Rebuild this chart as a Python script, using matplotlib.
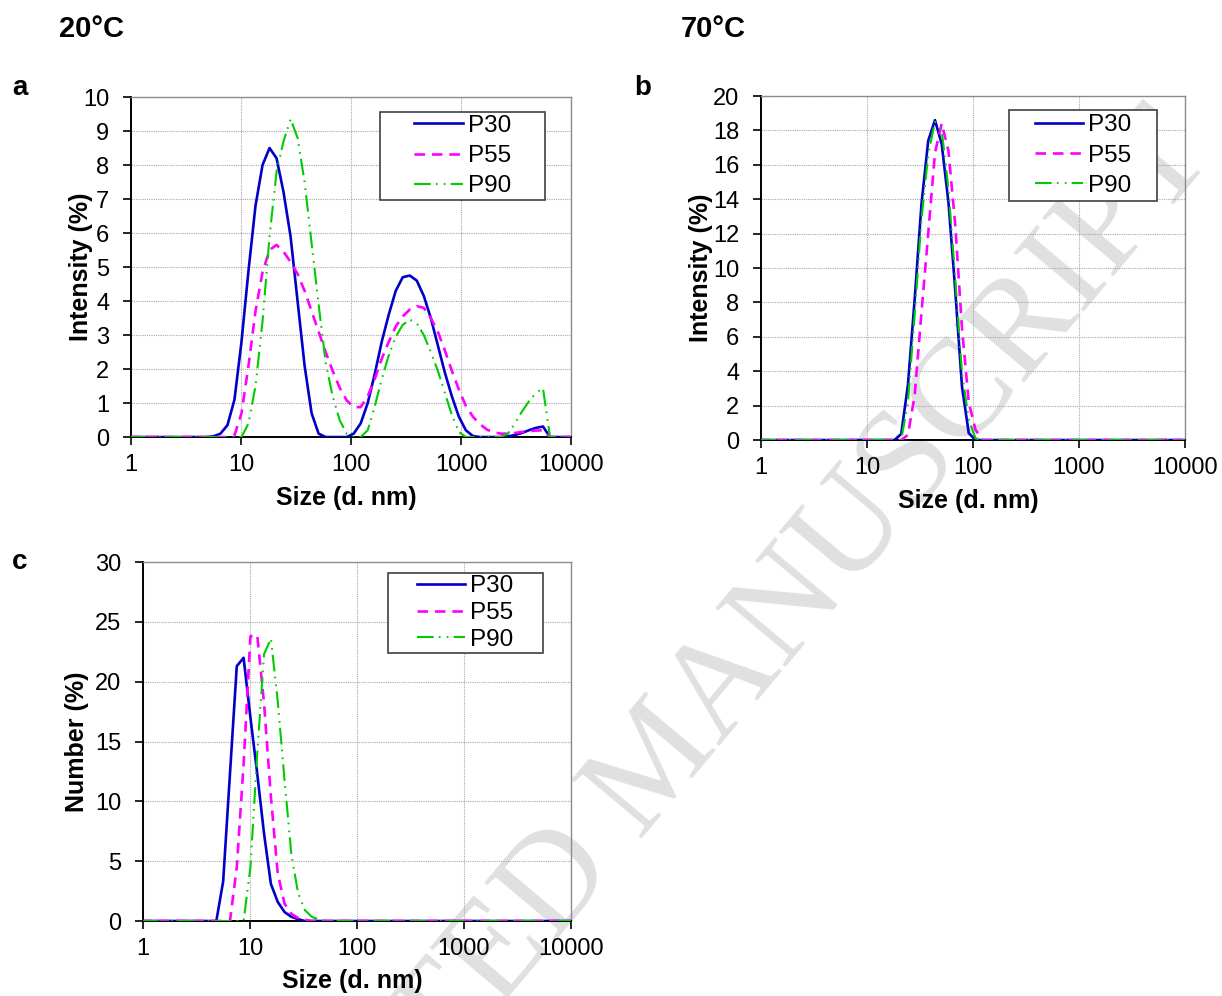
import matplotlib
matplotlib.use("Agg")
import matplotlib.pyplot as plt
from matplotlib.patches import Rectangle

plt.rcParams['font.family'] = ['Liberation Sans', 'DejaVu Sans']

# Malvern size classes (d. nm), 0.96 nm .. 10000 nm
SIZES = [0.9649, 1.117, 1.294, 1.499, 1.736, 2.01, 2.328, 2.696,
         3.122, 3.615, 4.187, 4.849, 5.615, 6.503, 7.531, 8.721,
         10.1, 11.7, 13.54, 15.69, 18.17, 21.04, 24.36, 28.21,
         32.67, 37.84, 43.82, 50.75, 58.77, 68.06, 78.82, 91.28,
         105.7, 122.4, 141.8, 164.2, 190.1, 220.2, 255.0, 295.3,
         342.0, 396.1, 458.7, 531.2, 615.1, 712.4, 825.0, 955.4,
         1106, 1281, 1484, 1718, 1990, 2305, 2669, 3091,
         3580, 4145, 4801, 5560, 6439, 7456, 8635, 10000]

SAMPLES = ["P30", "P55", "P90"]

# (a) intensity, 20 C
A_P30 = ([0] * 8
         + [0, 0, 0, 0, 0.02, 0.1, 0.35, 1.1]
         + [2.8, 4.9, 6.8, 8.0, 8.5, 8.2, 7.2, 5.9]
         + [4.0, 2.1, 0.7, 0.1, 0, 0, 0, 0]
         + [0.1, 0.4, 1.0, 1.85, 2.8, 3.6, 4.3, 4.7]
         + [4.75, 4.6, 4.15, 3.5, 2.7, 1.9, 1.2, 0.6]
         + [0.2, 0.03, 0, 0, 0, 0, 0.02, 0.06]
         + [0.12, 0.2, 0.27, 0.31, 0, 0, 0, 0])
A_P55 = ([0] * 8
         + [0, 0, 0, 0, 0, 0, 0, 0.05]
         + [0.7, 2.1, 3.7, 4.85, 5.5, 5.65, 5.45, 5.15]
         + [4.8, 4.3, 3.7, 3.1, 2.5, 1.95, 1.45, 1.08]
         + [0.88, 0.88, 1.2, 1.7, 2.3, 2.8, 3.25, 3.55]
         + [3.75, 3.85, 3.8, 3.5, 3.1, 2.55, 1.95, 1.4]
         + [0.92, 0.6, 0.38, 0.22, 0.14, 0.1, 0.1, 0.12]
         + [0.15, 0.17, 0.19, 0.2, 0, 0, 0, 0])
A_P90 = ([0] * 8
         + [0, 0, 0, 0, 0, 0, 0, 0]
         + [0, 0.4, 1.5, 3.4, 5.9, 7.8, 8.7, 9.35]
         + [8.8, 7.5, 5.7, 3.9, 2.2, 1.2, 0.5, 0.1]
         + [0, 0, 0.2, 0.9, 1.7, 2.4, 2.95, 3.3]
         + [3.45, 3.35, 3.0, 2.5, 1.95, 1.3, 0.65, 0.15]
         + [0, 0, 0, 0, 0, 0, 0.1, 0.4]
         + [0.75, 1.05, 1.3, 1.43, 0, 0, 0, 0])

# (b) intensity, 70 C
B_P30 = ([0] * 16
         + [0, 0, 0, 0, 0, 0.35, 3.2, 8.2]
         + [13.7, 17.4, 18.6, 17.2, 13.8, 8.7, 3.1, 0.4]
         + [0] * 32)
B_P55 = ([0] * 16
         + [0, 0, 0, 0, 0, 0, 0.3, 2.6]
         + [7.4, 12.0, 16.7, 18.4, 16.8, 12.5, 6.5, 2.2]
         + [0.6] + [0] * 31)
B_P90 = ([0] * 16
         + [0, 0, 0, 0, 0, 0, 2.2, 7.3]
         + [12.8, 16.6, 18.5, 18.0, 14.6, 9.4, 3.9, 1.2]
         + [0.1] + [0] * 31)

# (c) number, 20 C
C_P30 = ([0] * 8
         + [0, 0, 0, 0, 3.3, 12.3, 21.3, 22.0]
         + [17.0, 12.3, 7.3, 3.1, 1.6, 0.75, 0.35, 0.15]
         + [0] * 40)
C_P55 = ([0] * 8
         + [0, 0, 0, 0, 0, 0, 4.5, 13.1]
         + [23.8, 23.9, 18.2, 10.4, 4.0, 1.45, 0.6, 0.25]
         + [0.1] + [0] * 39)
C_P90 = ([0] * 8
         + [0, 0, 0, 0, 0, 0, 0, 0]
         + [4.5, 14.0, 22.3, 23.6, 18.4, 11.8, 5.6, 2.3]
         + [0.9, 0.35, 0.12] + [0] * 37)

X_TICKS = [1, 10, 100, 1000, 10000]

COLORS = ['#0000C8', '#FF00FF', '#00CC00']
STYLES = ['-', (0, (4, 2.6)), (0, (8, 2.5, 0.8, 3, 0.8, 2.5))]
WIDTHS = [1.9, 1.9, 1.5]

fig = plt.figure(figsize=(12.22, 9.96), dpi=100)

# faint watermark behind everything
fig.text(0.540, 0.232, "ACCEPTED MANUSCRIPT", fontsize=100, family='Liberation Serif',
         color='#e0e0e0', rotation=50, ha='center', va='center', zorder=-1)


def panel(rect, series, ymax, ystep, ylabel, ylab_x, xlab_y, leg_box, leg_spacing):
    ax = fig.add_axes(rect)
    ax.set_facecolor('none')
    for vals, name, c, ls, lw in zip(series, SAMPLES, COLORS, STYLES, WIDTHS):
        ax.plot(SIZES, vals, color=c, linestyle=ls, lw=lw, label=name, zorder=3)
    ax.set_xscale('log')
    ax.set_xlim(1, 10000)
    ax.set_ylim(0, ymax)
    ax.set_xticks(X_TICKS)
    ax.set_xticklabels([str(t) for t in X_TICKS])
    ax.xaxis.set_minor_locator(matplotlib.ticker.NullLocator())
    ax.set_yticks(range(0, ymax + 1, ystep))
    ax.tick_params(labelsize=17, length=5.5, width=1.2, direction='out')
    ax.tick_params(axis='y', pad=10)
    ax.tick_params(axis='x', pad=7)
    ax.grid(True, color='#a8a8a8', linestyle=(0, (1, 1)), lw=0.8)
    for s in ['left', 'bottom']:
        ax.spines[s].set_linewidth(1.4)
    for s in ['top', 'right']:
        ax.spines[s].set_color('#8c8c8c')
        ax.spines[s].set_linewidth(1.0)
    ax.set_ylabel(ylabel, fontsize=18, fontweight='bold')
    ax.yaxis.set_label_coords(ylab_x, 0.5)
    ax.set_xlabel("Size (d. nm)", fontsize=18, fontweight='bold')
    ax.xaxis.set_label_coords(0.49, xlab_y)
    x0, y0, w, h = leg_box
    ax.add_patch(Rectangle((x0, y0), w, h, transform=ax.transAxes, facecolor='white',
                           edgecolor='#404040', lw=1.2, zorder=5))
    leg = ax.legend(loc='center', bbox_to_anchor=(x0 + w / 2, y0 + h / 2),
                    frameon=False, fontsize=17.5, handlelength=2.0, handletextpad=0.2,
                    labelspacing=leg_spacing, borderpad=0)
    leg.set_zorder(6)
    return ax


panel([0.1072, 0.5612, 0.3601, 0.3414], [A_P30, A_P55, A_P90], 10, 1,
      "Intensity (%)", -0.086, -0.144, (0.566, 0.697, 0.375, 0.259), 0.33)
panel([0.6227, 0.5582, 0.3470, 0.3454], [B_P30, B_P55, B_P90], 20, 2,
      "Intensity (%)", -0.113, -0.142, (0.585, 0.695, 0.349, 0.264), 0.34)
panel([0.1170, 0.0753, 0.3502, 0.3604], [C_P30, C_P55, C_P90], 30, 5,
      "Number (%)", -0.126, -0.134, (0.572, 0.747, 0.362, 0.222), 0.19)

fig.text(91 / 1222, 1 - 29 / 996, "20°C", fontsize=21, fontweight='bold', ha='center', va='center')
fig.text(713 / 1222, 1 - 29 / 996, "70°C", fontsize=21, fontweight='bold', ha='center', va='center')
fig.text(20 / 1222, 1 - 88 / 996, "a", fontsize=20, fontweight='bold', ha='center', va='center')
fig.text(643 / 1222, 1 - 88 / 996, "b", fontsize=20, fontweight='bold', ha='center', va='center')
fig.text(20 / 1222, 1 - 562 / 996, "c", fontsize=20, fontweight='bold', ha='center', va='center')

fig.savefig("out.png", dpi=100)
